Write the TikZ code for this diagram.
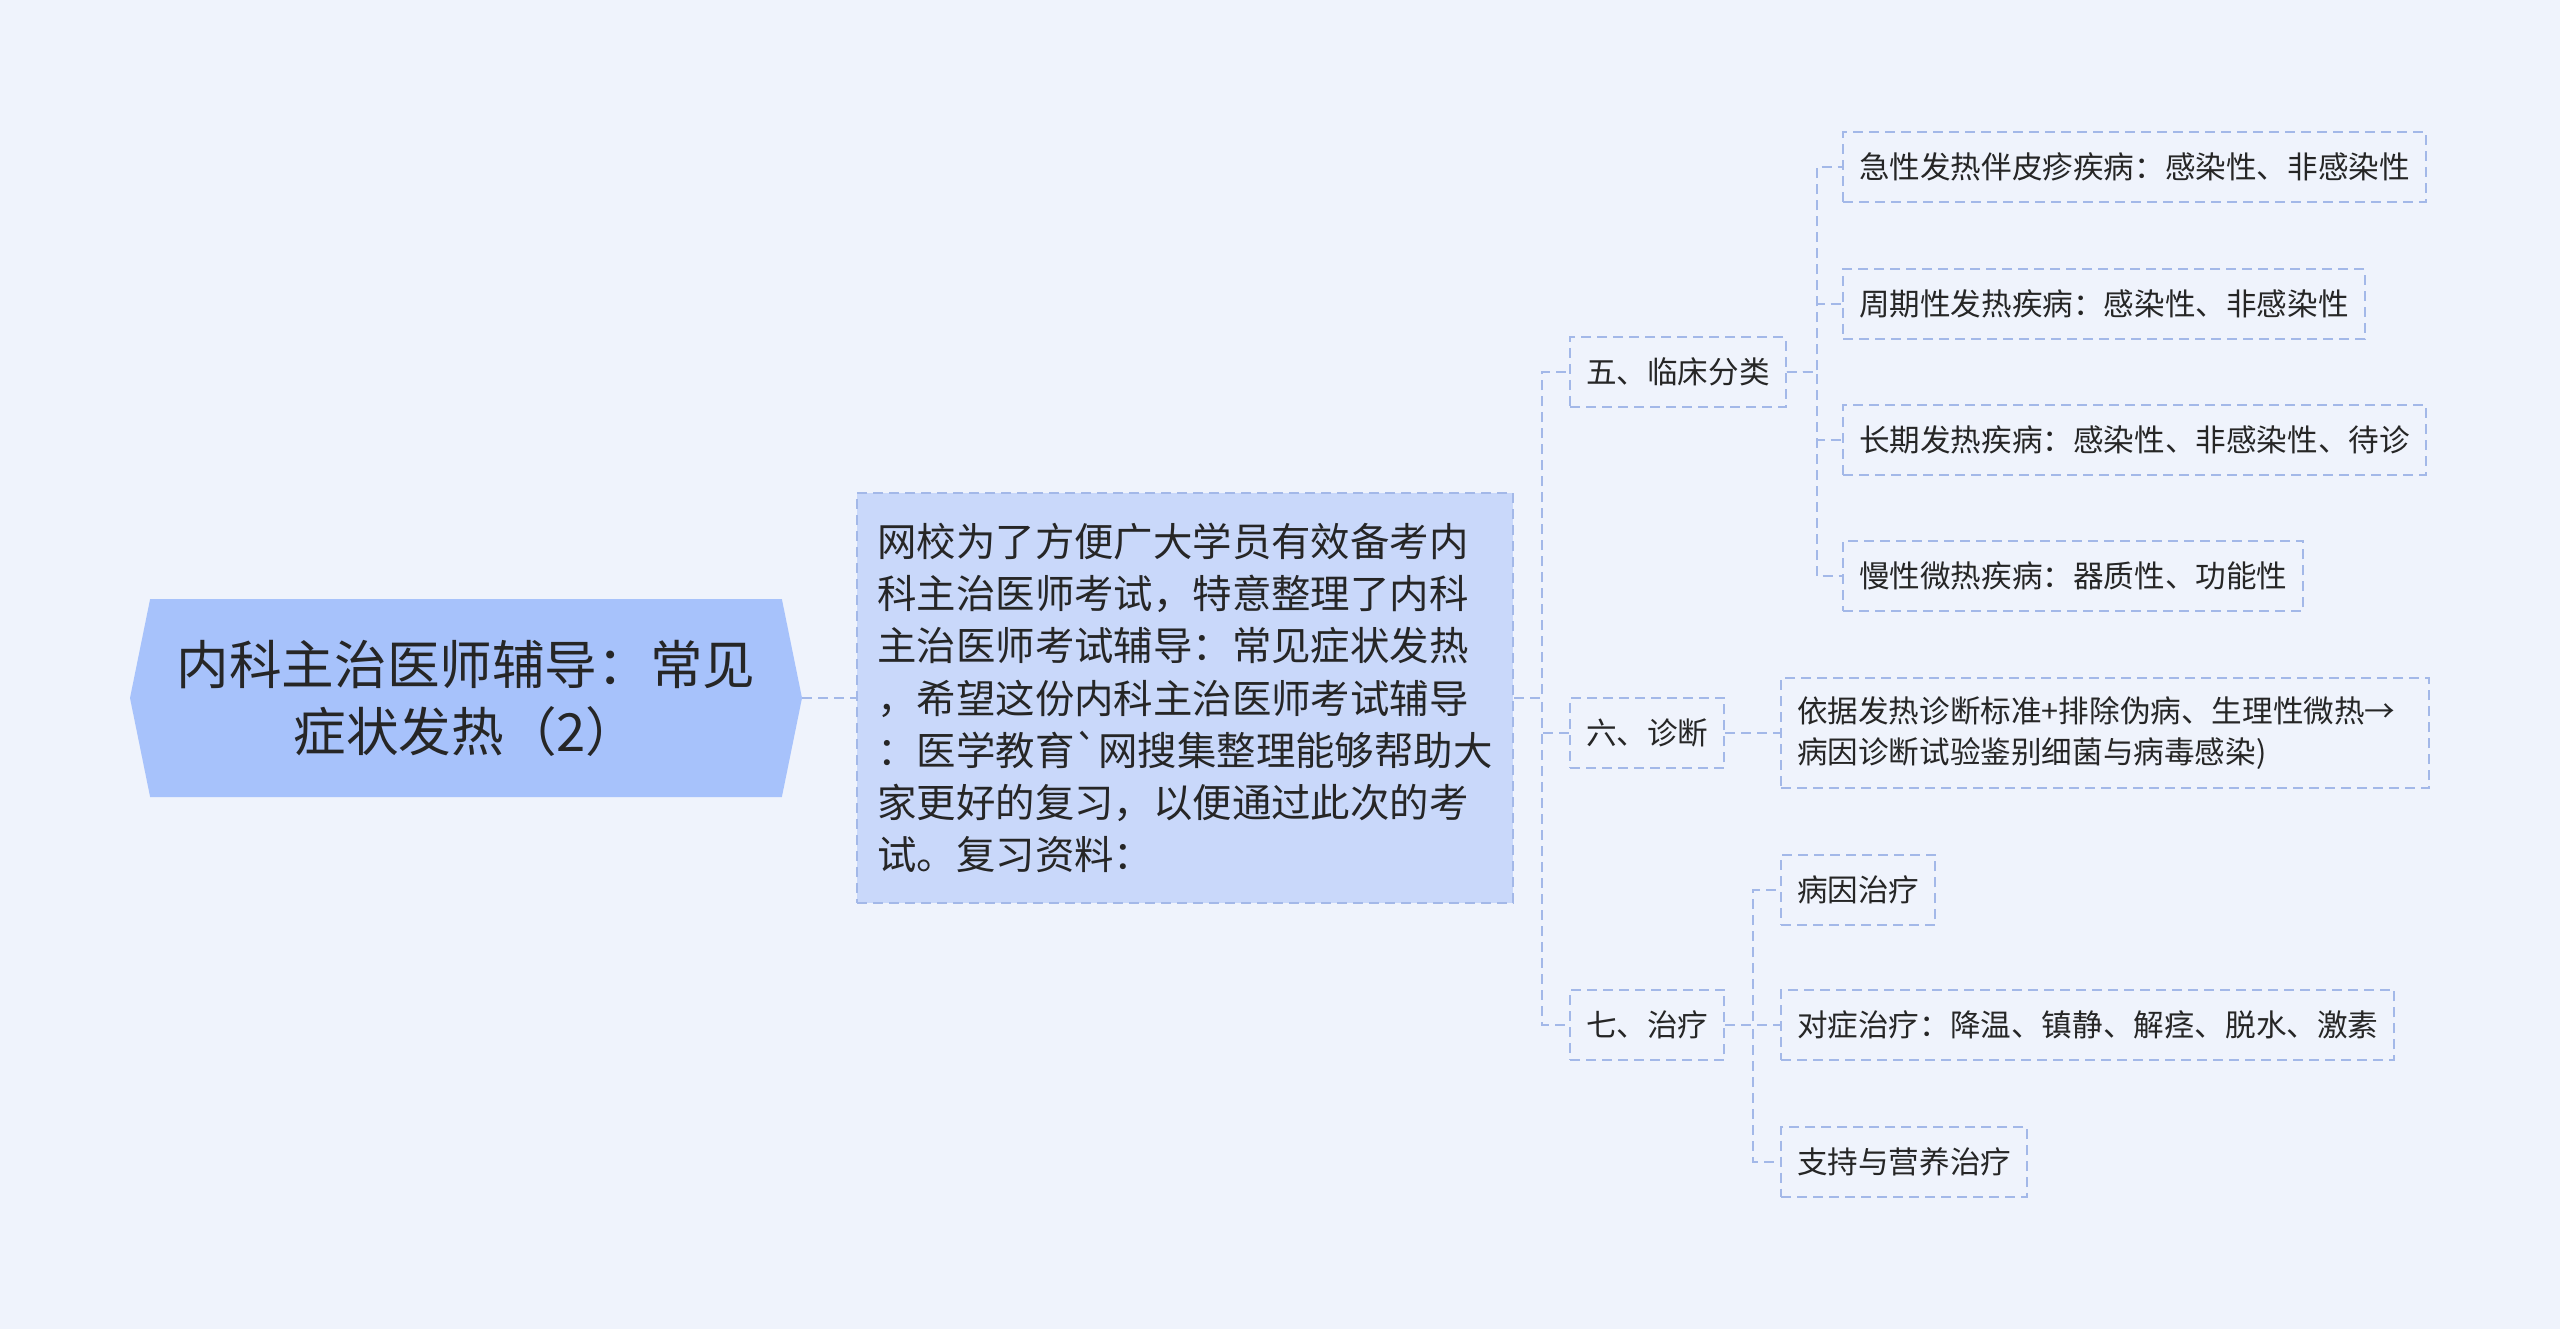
\documentclass[tikz,border=0pt]{standalone}
\usepackage{fontspec}
\newfontfamily\cjk{Noto Sans CJK SC}
\usetikzlibrary{shapes.symbols}
\definecolor{mybg}{RGB}{239,243,252}
\definecolor{myroot}{RGB}{167,194,251}
\definecolor{myintro}{RGB}{201,216,250}
\definecolor{myline}{RGB}{163,184,232}
\definecolor{mytext}{RGB}{38,38,38}
\tikzset{
    common/.style={anchor=west, text=mytext, inner xsep=8pt, inner ysep=0pt, minimum height=35pt},
    leaf/.style={common, draw=myline, line width=1pt, dash pattern=on 5pt off 3pt,
        font=\cjk\fontsize{15.3}{20.5}\selectfont},
    twoline/.style={leaf, align=left, minimum height=55pt, text width=308pt},
    root/.style={signal, signal to=west and east, signal pointer angle=157, fill=myroot,
        text=mytext, align=center, minimum width=336pt, minimum height=99pt,
        font=\cjk\fontsize{26.3}{33.5}\selectfont},
    intro/.style={draw=myline, fill=myintro, line width=1pt, dash pattern=on 5pt off 3pt,
        text=mytext, align=left, minimum width=328pt, minimum height=205pt,
        font=\cjk\fontsize{19.7}{26.1}\selectfont},
    link/.style={draw=myline, line width=1pt, dash pattern=on 5pt off 3pt}
}
\begin{document}
\begin{tikzpicture}[x=0.5pt, y=-0.5pt]
    \useasboundingbox[fill=mybg] (0,0) rectangle (2560,1329);

    % root and intro text
    \node[root] (root) at (466,698) {内科主治医师辅导：常见\\症状发热（2）};
    \node[intro] (intro) at (1185,698) {网校为了方便广大学员有效备考内\\科主治医师考试，特意整理了内科\\主治医师考试辅导：常见症状发热\\，希望这份内科主治医师考试辅导\\：医学教育`网搜集整理能够帮助大\\家更好的复习，以便通过此次的考\\试。复习资料：};

    % sections
    \node[leaf] (wu) at (1569,372) {五、临床分类};
    \node[leaf] (liu) at (1569,733) {六、诊断};
    \node[leaf] (qi) at (1569,1025) {七、治疗};

    % classes
    \node[leaf] (acute) at (1842,167) {急性发热伴皮疹疾病：感染性、非感染性};
    \node[leaf] (periodic) at (1842,304) {周期性发热疾病：感染性、非感染性};
    \node[leaf] (long) at (1842,440) {长期发热疾病：感染性、非感染性、待诊};
    \node[leaf] (chronic) at (1842,576) {慢性微热疾病：器质性、功能性};

    % diagnosis
    \node[twoline] (diag) at (1780,733) {依据发热诊断标准+排除伪病、生理性微热→\\病因诊断试验鉴别细菌与病毒感染)};

    % treatment
    \node[leaf] (cause) at (1780,890) {病因治疗};
    \node[leaf] (symptom) at (1780,1025) {对症治疗：降温、镇静、解痉、脱水、激素};
    \node[leaf] (support) at (1780,1162) {支持与营养治疗};

    \draw[link] (root.east) -- (intro.west);
    \draw[link] (intro.east) -- ++(14pt,0) |- (wu.west);
    \draw[link] (intro.east) -- ++(14pt,0) |- (liu.west);
    \draw[link] (intro.east) -- ++(14pt,0) |- (qi.west);
    \foreach \leafname in {acute, periodic, long, chronic}
        \draw[link] (wu.east) -- ++(15pt,0) |- (\leafname.west);
    \draw[link] (liu.east) -- (diag.west);
    \foreach \leafname in {cause, symptom, support}
        \draw[link] (qi.east) -- ++(14pt,0) |- (\leafname.west);
\end{tikzpicture}
\end{document}
